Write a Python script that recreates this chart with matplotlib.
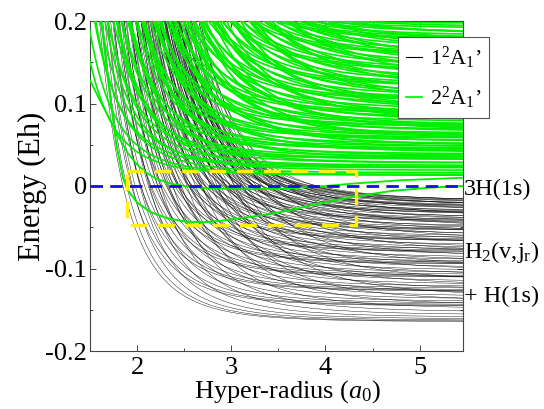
import numpy as np
import matplotlib
matplotlib.use("Agg")
import matplotlib.pyplot as plt
from matplotlib.ticker import MultipleLocator
import matplotlib.transforms as mtransforms

plt.rcParams['font.family'] = ['Liberation Serif', 'DejaVu Serif']
plt.rcParams['mathtext.fontset'] = 'custom'
plt.rcParams['mathtext.rm'] = 'Liberation Serif'
plt.rcParams['mathtext.it'] = 'Liberation Serif:italic'

# ---------------- data ----------------
# 1^2A1' curves: H2(v) + H thresholds (Eh), and where the j=0 curve of each
# manifold crosses E = 0 (a0)
black_vib_E = [-0.1646, -0.1456, -0.1277, -0.1109, -0.0951, -0.0803,
               -0.0667, -0.0544, -0.0433, -0.0337, -0.0258, -0.0198]
black_vib_cross = [1.85, 1.94, 2.04, 2.15, 2.27, 2.40,
                   2.55, 2.72, 2.92, 3.15, 3.42, 3.75]
# rotational (j) offsets of the thresholds and of the crossing points
black_rot_E = [0.0, 0.0006, 0.0017, 0.0033, 0.0055, 0.0083,
               0.0116, 0.0155, 0.0199, 0.0248, 0.0302]
black_rot_cross = [0.0, 0.04, 0.10, 0.18, 0.28, 0.40,
                   0.53, 0.68, 0.84, 1.00, 1.18]
black_top_asym = -0.018     # highest 1^2A1' asymptote seen at the right edge

# 2^2A1' curves: group asymptotes (Eh) and where the lowest member of each
# group crosses E = 0.2 (a0), plus offsets inside a group
green_grp_E = [0.013, 0.022, 0.033, 0.045, 0.058, 0.072,
               0.087, 0.103, 0.120, 0.138, 0.157, 0.176]
green_grp_cross = [1.42, 1.55, 1.69, 1.84, 2.00, 2.17,
                   2.35, 2.55, 2.76, 2.98, 3.22, 3.48]
green_sub_E = [0.0, 0.001, 0.003, 0.006, 0.010, 0.015, 0.021, 0.028,
               0.036, 0.045]
green_sub_cross = [0.0, 0.06, 0.14, 0.24, 0.36, 0.50, 0.66, 0.84,
                   1.04, 1.26]
wall_power = 5.5

# 2^2A1' curve with the deep well (inside the yellow box)
well_rho = [1.62, 1.70, 1.78, 1.85, 1.90, 2.00, 2.15, 2.32, 2.50, 2.70, 2.90,
            3.10, 3.35, 3.60, 3.90, 4.30, 4.70, 5.10, 5.46]
well_E = [0.200, 0.120, 0.050, 0.010, -0.005, -0.020, -0.032, -0.039, -0.043,
          -0.044, -0.042, -0.039, -0.035, -0.030, -0.022, -0.013, -0.006,
          -0.002, 0.000]
# lowest 2^2A1' curve with the shallow well
shallow_rho = [1.45, 1.50, 1.60, 1.70, 1.80, 1.90, 2.00, 2.10, 2.20, 2.35,
               2.55, 2.80, 3.20, 3.60, 4.00, 4.30, 4.80, 5.46]
shallow_E = [0.138, 0.128, 0.105, 0.083, 0.060, 0.040, 0.026, 0.016, 0.009,
             0.003, -0.001, -0.003, -0.004, -0.003, 0.000, 0.003, 0.007, 0.010]

threshold_E = 0.0           # 3H(1s) limit
box_rho = [1.89, 4.32]      # yellow highlight box
box_E = [-0.047, 0.0185]

xlim = [1.5, 5.46]
ylim = [-0.2, 0.2]
xticks = [2, 3, 4, 5]
yticks = [0.2, 0.1, 0.0, -0.1, -0.2]
ytick_labels = ['0.2', '0.1', '0', '-0.1', '-0.2']

legend_labels = [r"1$^{2}$A$_{1}$’", r"2$^{2}$A$_{1}$’"]
right_labels = ["3H(1s)", r"H$_2$(v,j$_\mathrm{r}$)", "+ H(1s)"]
right_label_E = [-0.011, -0.087, -0.141]

BLACK = '#000000'
GREEN = '#00ee00'
BLUE = '#1010e0'
YELLOW = '#ffee10'

# ---------------- figure ----------------
fig = plt.figure(figsize=(5.44, 4.09), dpi=100)
ax = fig.add_axes([90 / 544, 1 - 351 / 409, (463 - 90) / 544, (351 - 21) / 409])

rho = np.linspace(1.2, 5.6, 400)

for ev, cv in zip(black_vib_E, black_vib_cross):
    for er, cr in zip(black_rot_E, black_rot_cross):
        a = ev + er
        if a > black_top_asym:
            continue
        r0 = cv + cr
        E = a + (0.0 - a) * (r0 / rho) ** wall_power
        ax.plot(rho, E, color=BLACK, lw=0.3, zorder=2)

for eg, cg in zip(green_grp_E, green_grp_cross):
    for es, cs in zip(green_sub_E, green_sub_cross):
        a = eg + es
        if a >= 0.2:
            continue
        rt = cg + cs
        E = a + (0.2 - a) * (rt / rho) ** wall_power
        ax.plot(rho, E, color=GREEN, lw=1.2, zorder=3)

ax.plot(shallow_rho, shallow_E, color=GREEN, lw=1.3, zorder=4)
ax.plot(well_rho, well_E, color=GREEN, lw=1.4, zorder=4)

# yellow box
bx = [box_rho[0], box_rho[1], box_rho[1], box_rho[0], box_rho[0]]
by = [box_E[1], box_E[1], box_E[0], box_E[0], box_E[1]]
ax.plot(bx, by, color=YELLOW, lw=2.4, dashes=(5, 3.2), zorder=5)

# threshold line
ax.axhline(threshold_E, color=BLUE, lw=2.0, dashes=(4.5, 2.6), zorder=6)

ax.set_xlim(*xlim)
ax.set_ylim(*ylim)
ax.set_xticks(xticks)
ax.set_xticklabels([str(v) for v in xticks])
ax.set_yticks(yticks)
ax.set_yticklabels(ytick_labels)
ax.xaxis.set_minor_locator(MultipleLocator(0.5))
ax.yaxis.set_minor_locator(MultipleLocator(0.05))
ax.tick_params(which='both', direction='in', top=True, right=True,
               labelsize=19, color='#444444', width=0.7)
ax.tick_params(axis='x', which='major', length=4.5, pad=4)
ax.tick_params(axis='y', which='major', length=4.5, pad=2)
ax.tick_params(which='minor', length=2.5)
for s in ax.spines.values():
    s.set_color('#444444')
    s.set_linewidth(0.8)

ax.set_xlabel(r"Hyper-radius ($\mathit{a}_{\mathit{0}}$)", fontsize=19)
ax.xaxis.set_label_coords(0.53, -0.142, transform=ax.transAxes)
ax.xaxis.label.set_va('baseline')
ax.set_ylabel("Energy (Eh)", fontsize=22, labelpad=-1)

trans = mtransforms.blended_transform_factory(ax.transAxes, ax.transData)
for lab, e in zip(right_labels, right_label_E):
    ax.text(1.003, e, lab, transform=trans, fontsize=17.5, va='baseline',
            ha='left', clip_on=False)

handles = [plt.Line2D([], [], color=BLACK, lw=0.8),
           plt.Line2D([], [], color=GREEN, lw=1.2)]
leg = fig.legend(handles, legend_labels, loc='upper left',
                 bbox_to_anchor=(398 / 544, 1 - 37 / 409), borderaxespad=0,
                 fontsize=16, handlelength=0.75, handletextpad=0.35,
                 labelspacing=0.6, borderpad=0.35, fancybox=False,
                 framealpha=1, edgecolor='#555555')
leg.get_frame().set_linewidth(0.8)
leg.set_zorder(10)

fig.savefig("out.png", dpi=100)
